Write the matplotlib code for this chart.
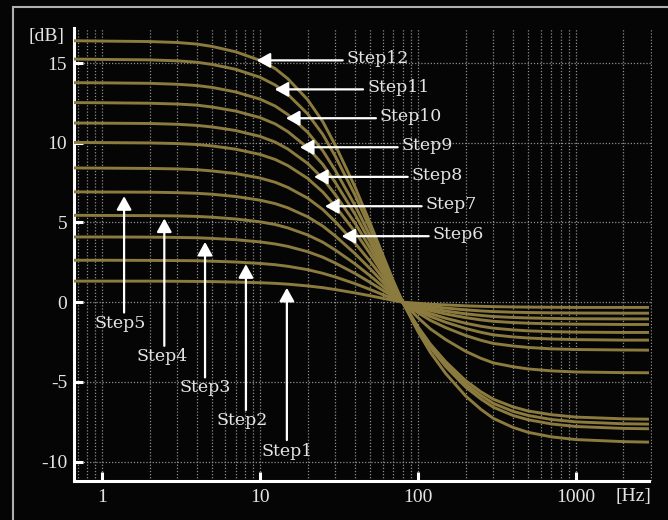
import matplotlib
matplotlib.use("Agg")
import matplotlib.pyplot as plt
from matplotlib.patches import Rectangle

# ---------------- data ----------------
freq = [0.66, 1, 2, 3, 4, 5, 7, 10, 12.5, 15, 20, 25, 30, 40, 50, 60, 70, 80,
        100, 120, 150, 200, 250, 300, 400, 500, 700, 1000, 2000, 2900]

step1 = [1.32, 1.32, 1.32, 1.31, 1.30, 1.29, 1.26, 1.22, 1.18, 1.13, 1.02, 0.91, 0.79, 0.58, 0.40, 0.24, 0.11, 0.0,
         -0.07, -0.13, -0.17, -0.23, -0.26, -0.28, -0.30, -0.31, -0.32, -0.33, -0.33, -0.33]
step2 = [2.63, 2.63, 2.62, 2.61, 2.60, 2.57, 2.52, 2.43, 2.35, 2.25, 2.04, 1.81, 1.58, 1.16, 0.79, 0.47, 0.21, 0.0,
         -0.15, -0.26, -0.37, -0.48, -0.55, -0.59, -0.63, -0.65, -0.67, -0.68, -0.69, -0.69]
step3 = [4.09, 4.09, 4.08, 4.06, 4.04, 4.00, 3.92, 3.78, 3.65, 3.50, 3.17, 2.82, 2.45, 1.80, 1.23, 0.74, 0.33, 0.0,
         -0.23, -0.40, -0.56, -0.73, -0.83, -0.90, -0.96, -0.99, -1.02, -1.04, -1.05, -1.05]
step4 = [5.45, 5.44, 5.43, 5.41, 5.38, 5.33, 5.22, 5.04, 4.87, 4.66, 4.22, 3.76, 3.27, 2.40, 1.64, 0.98, 0.44, 0.0,
         -0.31, -0.53, -0.74, -0.97, -1.11, -1.20, -1.28, -1.32, -1.36, -1.38, -1.40, -1.40]
step5 = [6.92, 6.91, 6.90, 6.87, 6.83, 6.77, 6.63, 6.40, 6.18, 5.92, 5.36, 4.77, 4.15, 3.04, 2.08, 1.25, 0.55, 0.0,
         -0.42, -0.72, -1.01, -1.32, -1.51, -1.63, -1.74, -1.80, -1.85, -1.88, -1.90, -1.90]
step6 = [8.42, 8.41, 8.39, 8.36, 8.31, 8.23, 8.07, 7.79, 7.52, 7.20, 6.53, 5.81, 5.05, 3.70, 2.53, 1.52, 0.67, 0.0,
         -0.52, -0.90, -1.26, -1.65, -1.89, -2.05, -2.18, -2.25, -2.31, -2.35, -2.38, -2.38]
step7 = [10.02, 10.01, 9.99, 9.95, 9.89, 9.80, 9.60, 9.27, 8.95, 8.57, 7.77, 6.91, 6.01, 4.41, 3.01, 1.80, 0.80, 0.0,
         -0.66, -1.14, -1.60, -2.09, -2.39, -2.59, -2.75, -2.84, -2.93, -2.97, -3.00, -3.01]
step8 = [11.24, 11.23, 11.21, 11.16, 11.09, 10.99, 10.77, 10.40, 10.04, 9.61, 8.71, 7.76, 6.74, 4.95, 3.37, 2.02, 0.90, 0.0,
         -0.97, -1.68, -2.35, -3.08, -3.52, -3.81, -4.05, -4.19, -4.31, -4.38, -4.42, -4.43]
step9 = [12.52, 12.51, 12.48, 12.43, 12.36, 12.24, 11.99, 11.58, 11.18, 10.70, 9.70, 8.64, 7.51, 5.51, 3.76, 2.25, 1.00, 0.0,
         -1.54, -2.64, -3.74, -4.92, -5.62, -6.09, -6.57, -6.83, -7.06, -7.21, -7.32, -7.34]
step10 = [13.77, 13.76, 13.73, 13.67, 13.59, 13.47, 13.19, 12.74, 12.30, 11.77, 10.67, 9.50, 8.26, 6.06, 4.13, 2.48, 1.10, 0.0,
          -1.61, -2.75, -3.90, -5.13, -5.85, -6.35, -6.85, -7.11, -7.36, -7.51, -7.63, -7.65]
step11 = [15.25, 15.23, 15.20, 15.14, 15.05, 14.91, 14.61, 14.11, 13.62, 13.04, 11.82, 10.52, 9.15, 6.71, 4.58, 2.75, 1.22, 0.0,
          -1.67, -2.86, -4.05, -5.32, -6.07, -6.59, -7.11, -7.38, -7.64, -7.80, -7.92, -7.94]
step12 = [16.40, 16.38, 16.35, 16.29, 16.19, 16.04, 15.71, 15.17, 14.65, 14.02, 12.71, 11.32, 9.84, 7.22, 4.92, 2.95, 1.31, 0.0,
          -1.84, -3.16, -4.48, -5.88, -6.72, -7.29, -7.86, -8.17, -8.45, -8.62, -8.75, -8.78]

series = [step1, step2, step3, step4, step5, step6, step7, step8, step9, step10, step11, step12]

x_ticks = [1, 10, 100, 1000]
x_tick_labels = ["1", "10", "100", "1000"]
y_ticks = [-10, -5, 0, 5, 10, 15]
y_tick_labels = ["-10", "-5", "0", "5", "10", "15"]

# labels with horizontal arrows (Step6..Step12)
h_names = ["Step12", "Step11", "Step10", "Step9", "Step8", "Step7", "Step6"]
h_tip = [(9.53, 15.17), (12.4, 13.35), (14.6, 11.54), (17.9, 9.72), (22.0, 7.86), (25.8, 6.02), (32.9, 4.14)]
h_tail_x = [33.4, 44.9, 54.2, 74.4, 86.1, 105.5, 116.9]
h_text_x = [35.4, 47.6, 57.5, 78.8, 91.2, 111.9, 123.9]

# labels with vertical arrows (Step1..Step5)
v_names = ["Step5", "Step4", "Step3", "Step2", "Step1"]
v_x = [1.38, 2.48, 4.49, 8.15, 14.8]
v_tip = [6.65, 5.25, 3.78, 2.38, 0.90]
v_tail = [-0.65, -2.74, -4.72, -6.77, -8.65]
v_text_x = [1.31, 2.40, 4.49, 7.77, 14.9]
v_text_y = [-1.34, -3.43, -5.37, -7.40, -9.39]

# ---------------- styling ----------------
BG = "#050505"
CURVE = "#8c7b3e"
TXT = "#e4e4e4"
GRID = "#8e8e8e"
SERIF = ["Liberation Serif", "DejaVu Serif"]
LABEL_FONT = ["DejaVu Serif"]

fig = plt.figure(figsize=(6.68, 5.2), dpi=100, facecolor=BG)
fig.patches.append(Rectangle((13 / 668, -0.2), 1.5, 0.2 + (520 - 7.3) / 520,
                             transform=fig.transFigure, fill=False,
                             edgecolor="#b0b0b0", lw=1.5, zorder=0))

ax = fig.add_axes([74 / 668, 39.3 / 520, 578 / 668, 452.7 / 520])
ax.set_facecolor(BG)
ax.set_xscale("log")
ax.set_xlim(0.665, 3030)
ax.set_ylim(-11.2, 17.2)

for s in series:
    ax.plot(freq, s, color=CURVE, lw=2.1, zorder=3, solid_capstyle="butt",
            solid_joinstyle="round")

# spines
for side in ["top", "right"]:
    ax.spines[side].set_visible(False)
for side in ["left", "bottom"]:
    ax.spines[side].set_color("white")
    ax.spines[side].set_linewidth(2.2)
ax.spines["bottom"].set_bounds(0.665, 2880)

# ticks
ax.set_xticks(x_ticks)
ax.set_xticklabels(x_tick_labels)
ax.set_yticks(y_ticks)
ax.set_yticklabels(y_tick_labels)
ax.xaxis.set_minor_locator(matplotlib.ticker.LogLocator(base=10, subs=[2, 3, 4, 5, 6, 7, 8, 9], numticks=20))
ax.xaxis.set_minor_formatter(matplotlib.ticker.NullFormatter())
ax.tick_params(axis="both", which="major", direction="in", length=6.5, width=2.2,
               color="white", labelcolor=TXT, labelsize=14)
ax.tick_params(axis="x", which="major", pad=6)
ax.tick_params(axis="y", which="major", pad=5)
ax.tick_params(axis="x", which="minor", length=0)
for lab in ax.get_xticklabels() + ax.get_yticklabels():
    lab.set_fontfamily(SERIF)

# grid
ax.grid(True, axis="x", which="both", color=GRID, ls=(0, (1, 1.5)), lw=0.9, zorder=1)
ax.grid(True, axis="y", which="major", color=GRID, ls=(0, (1, 1.5)), lw=0.9, zorder=1)
ax.set_axisbelow(True)

# unit labels
fig.text(64 / 668, 1 - 36 / 520, "[dB]", color=TXT, fontsize=14, family=SERIF,
         ha="right", va="center")
fig.text(651 / 668, 1 - 496 / 520, "[Hz]", color=TXT, fontsize=14, family=SERIF,
         ha="right", va="center")

# annotations
astyle = dict(arrowstyle="-|>,head_length=0.45,head_width=0.25", color="white",
              lw=1.6, mutation_scale=18, shrinkA=0, shrinkB=0)
for name, tip, tx, lx in zip(h_names, h_tip, h_tail_x, h_text_x):
    ax.annotate("", xy=tip, xytext=(tx, tip[1]), arrowprops=astyle, zorder=5)
    ax.text(lx, tip[1] + 0.1, name, color=TXT, fontsize=12.5, family=LABEL_FONT,
            ha="left", va="center", zorder=6)
for name, x, tip, tail, tx, ty in zip(v_names, v_x, v_tip, v_tail, v_text_x, v_text_y):
    ax.annotate("", xy=(x, tip), xytext=(x, tail), arrowprops=astyle, zorder=5)
    ax.text(tx, ty, name, color=TXT, fontsize=12.5, family=LABEL_FONT,
            ha="center", va="center", zorder=6)

fig.savefig("out.png", dpi=100, facecolor=BG)
